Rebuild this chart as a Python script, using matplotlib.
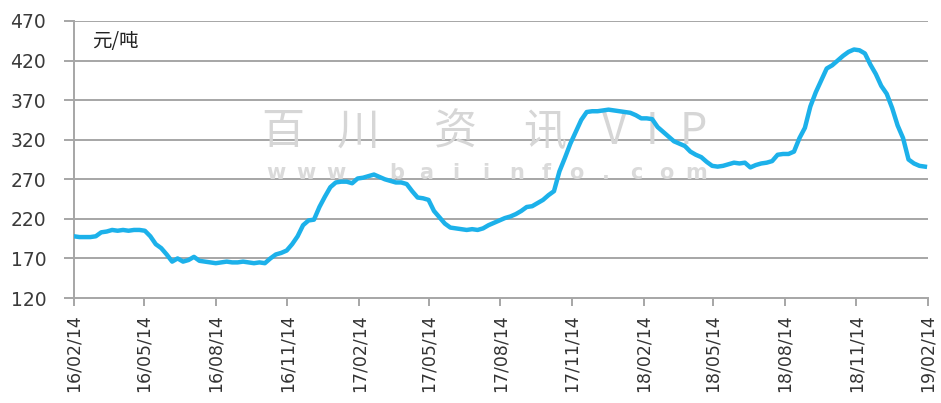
import datetime as dt
import matplotlib
matplotlib.use("Agg")
import matplotlib.pyplot as plt
import matplotlib.dates as mdates

plt.rcParams['font.family'] = ['DejaVu Sans', 'Noto Sans CJK SC']

start = dt.date(2016, 2, 14)

# weekly price, yuan/ton
prices = [198, 197, 197, 197, 198, 203, 204, 206, 205, 206,
          205, 206, 206, 205, 198, 188, 183, 175, 166, 170,
          166, 168, 172, 167, 166, 165, 164, 165, 166, 165,
          165, 166, 165, 164, 165, 164, 170, 175, 177, 180,
          188, 198, 212, 218, 219, 235, 248, 260, 266, 267,
          267, 265, 271, 272, 274, 276, 273, 270, 268, 266,
          266, 264, 255, 247, 246, 244, 230, 222, 214, 209,
          208, 207, 206, 207, 206, 208, 212, 215, 218, 221,
          223, 226, 230, 235, 236, 240, 244, 250, 255, 280,
          297, 315, 330, 345, 355, 356, 356, 357, 358, 357,
          356, 355, 354, 351, 347, 347, 346, 336, 330, 324,
          318, 315, 312, 305, 301, 298, 292, 287, 286, 287,
          289, 291, 290, 291, 285, 288, 290, 291, 293, 301,
          302, 302, 305, 322, 335, 362, 380, 395, 410, 414,
          420, 426, 431, 434, 433, 429, 415, 403, 388, 378,
          360, 338, 322, 295, 290, 287, 286]
dates = [start + dt.timedelta(days=7 * i) for i in range(len(prices))]

tick_dates = [dt.date(2016 + (1 + 3 * k) // 12, (1 + 3 * k) % 12 + 1, 14) for k in range(13)]
yticks = [120, 170, 220, 270, 320, 370, 420, 470]

fig = plt.figure(figsize=(9.41, 4.03), dpi=100)
ax = fig.add_axes([0.0786, 0.2605, 0.9076, 0.6874])

for y in yticks[1:]:
    ax.axhline(y, color='#a6a6a6', lw=1.4, zorder=1)

# watermark, one glyph at a time so it spreads like the original
wm_big = ['百', '川', '资', '讯', 'V', 'I', 'P']
wm_big_x = [0.245, 0.333, 0.447, 0.551, 0.633, 0.677, 0.725]
for ch, xx in zip(wm_big, wm_big_x):
    ax.text(xx, 0.598, ch, transform=ax.transAxes, ha='center', va='center', fontsize=31,
            color='#d6d6d6', family=['Noto Sans CJK SC', 'DejaVu Sans'], zorder=2)
wm_small = 'www.baiinfo.com'
for i, ch in enumerate(wm_small):
    ax.text(0.237 + i * 0.0351, 0.452, ch, transform=ax.transAxes, ha='center', va='center',
            fontsize=15, color='#dadada', fontweight='bold', zorder=2)

ax.plot(dates, prices, color='#1cb1ea', lw=3.2, zorder=3, solid_joinstyle='round')

ax.set_xlim(start, dt.date(2019, 2, 14))
ax.set_ylim(120, 470)
ax.set_yticks(yticks)
ax.set_xticks(tick_dates)
ax.xaxis.set_major_formatter(mdates.DateFormatter('%y/%m/%d'))
ax.tick_params(axis='x', rotation=90, labelsize=12.5, colors='#a6a6a6', labelcolor='#333333',
               length=6, width=1.4, pad=6)
ax.tick_params(axis='y', labelsize=13.5, colors='#a6a6a6', labelcolor='#3a3a3a',
               length=7, width=1.4, pad=13)

for s in ['top', 'right']:
    ax.spines[s].set_visible(False)
for s in ['left', 'bottom']:
    ax.spines[s].set_color('#a6a6a6')
    ax.spines[s].set_linewidth(1.4)

ax.text(0.021, 0.925, '元/吨', transform=ax.transAxes, ha='left', va='center', fontsize=14,
        color='#222222', family=['Noto Sans CJK SC', 'DejaVu Sans'])

fig.savefig('out.png', dpi=100)
